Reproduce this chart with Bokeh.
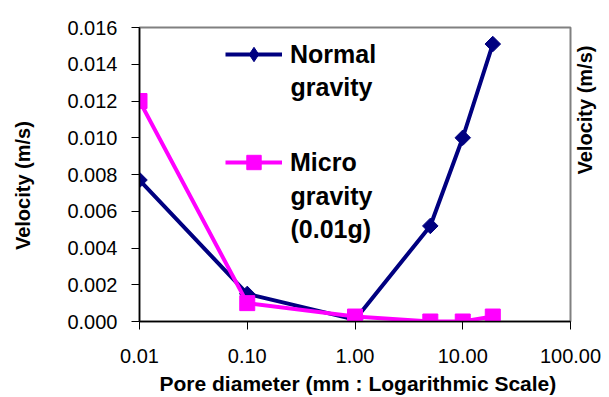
import math
from bokeh.plotting import figure
from bokeh.models import FixedTicker, Legend, LegendItem, Label, Range1d, LinearAxis
from bokeh.embed import file_html
from bokeh.resources import INLINE

# ---- data ----
pore_normal = [0.01, 0.1, 1.0, 5.0, 10.0, 19.0]
vel_normal = [0.0077, 0.0015, 0.0001, 0.0052, 0.0100, 0.0151]
pore_micro = [0.01, 0.1, 1.0, 5.0, 10.0, 19.0]
vel_micro = [0.0120, 0.0010, 0.00027, 0.0, 0.0, 0.00027]

x_ticks = [0.01, 0.1, 1.0, 10.0, 100.0]
x_tick_labels = ["0.01", "0.10", "1.00", "10.00", "100.00"]
y_ticks = [0.000, 0.002, 0.004, 0.006, 0.008, 0.010, 0.012, 0.014, 0.016]
y_tick_labels = ["0.000", "0.002", "0.004", "0.006", "0.008", "0.010", "0.012", "0.014", "0.016"]

series_names = ["Normal", "Micro"]
series_extra_lines = [["gravity"], ["gravity", "(0.01g)"]]

FONT = "Liberation Sans"
NAVY = "#000080"
MAGENTA = "#FF00FF"

p = figure(width=609, height=397, x_axis_type="log",
           x_range=Range1d(0.01, 100), y_range=Range1d(0, 0.016),
           output_backend="svg", toolbar_location=None,
           min_border_left=139, min_border_right=39,
           min_border_top=27, min_border_bottom=75)

p.grid.visible = False
p.background_fill_color = "white"
p.border_fill_color = "white"
p.outline_line_color = "#808080"
p.outline_line_width = 2

# axes
p.xaxis.ticker = FixedTicker(ticks=x_ticks, minor_ticks=[])
p.xaxis.major_label_overrides = {t: l for t, l in zip(x_ticks, x_tick_labels)}
p.yaxis.ticker = FixedTicker(ticks=y_ticks, minor_ticks=[])
p.yaxis.major_label_overrides = {t: l for t, l in zip(y_ticks, y_tick_labels)}
for ax in (p.xaxis, p.yaxis):
    ax.axis_line_color = "black"
    ax.axis_line_width = 1.5
    ax.major_tick_line_color = "black"
    ax.major_tick_line_width = 1
    ax.major_tick_out = 8
    ax.major_tick_in = 0
    ax.minor_tick_line_color = None
    ax.major_label_text_font = FONT
    ax.major_label_text_font_size = "20px"
    ax.major_label_text_color = "black"
    ax.axis_label_text_font = FONT
    ax.axis_label_text_font_style = "bold"
    ax.axis_label_text_color = "black"
p.xaxis.major_label_standoff = 19
p.yaxis.major_label_standoff = 14

# a leading no-break space nudges the centred title slightly right, as in the reference
p.xaxis.axis_label = "\u00a0Pore diameter (mm : Logarithmic Scale)"
p.xaxis.axis_label_text_font_size = "21px"
p.xaxis.axis_label_standoff = 6

# trailing no-break spaces shift the visible title down a little, as in the reference
p.yaxis.axis_label = "Velocity (m/s)\u00a0\u00a0\u00a0\u00a0"
p.yaxis.axis_label_text_font_size = "20px"
p.yaxis.axis_label_standoff = 30

# neighbouring chart's axis title, at the picture's right edge
rax = LinearAxis(ticker=FixedTicker(ticks=[]), axis_line_color=None,
                 major_tick_line_color=None, minor_tick_line_color=None,
                 major_tick_out=0, major_tick_in=0, minor_tick_out=0, minor_tick_in=0,
                 major_label_text_font_size="0px",
                 axis_label="Velocity (m/s)", axis_label_text_font=FONT,
                 axis_label_text_font_size="20px", axis_label_text_font_style="bold",
                 axis_label_text_color="black", axis_label_standoff=14)
try:
    rax.axis_label_orientation = math.pi / 2
except Exception:
    pass
p.add_layout(rax, "right")

# series
r1 = p.line(pore_normal, vel_normal, line_color=NAVY, line_width=4)
r1m = p.scatter(pore_normal, vel_normal, marker="square", angle=math.pi / 4,
                size=11, color=NAVY)
r1_key = p.scatter(pore_normal, vel_normal, marker="diamond", size=15,
                   color=NAVY, visible=False)  # legend key only
r2 = p.line(pore_micro, vel_micro, line_color=MAGENTA, line_width=4)
r2m = p.scatter(pore_micro, vel_micro, marker="square", size=15, color=MAGENTA)

legend = Legend(items=[LegendItem(label=series_names[0], renderers=[r1, r1_key]),
                       LegendItem(label=series_names[1], renderers=[r2, r2m])],
                location=(86, 141), padding=0, margin=0, spacing=72,
                glyph_width=57, glyph_height=36, label_height=36,
                label_standoff=8, border_line_color=None,
                background_fill_alpha=0,
                label_text_font=FONT, label_text_font_size="25px",
                label_text_font_style="bold", label_text_color="black")
p.add_layout(legend, "center")

# continuation lines of the legend labels
extra_pos = [[(151, 235)], [(151, 126), (151, 93)]]
for lines, poss in zip(series_extra_lines, extra_pos):
    for txt, (lx, ly) in zip(lines, poss):
        p.add_layout(Label(x=lx, y=ly, x_units="screen", y_units="screen", text=txt,
                           text_font=FONT, text_font_size="25px", text_font_style="bold",
                           text_color="black", text_baseline="alphabetic"))

open("out.html", "w").write(file_html(p, INLINE))
